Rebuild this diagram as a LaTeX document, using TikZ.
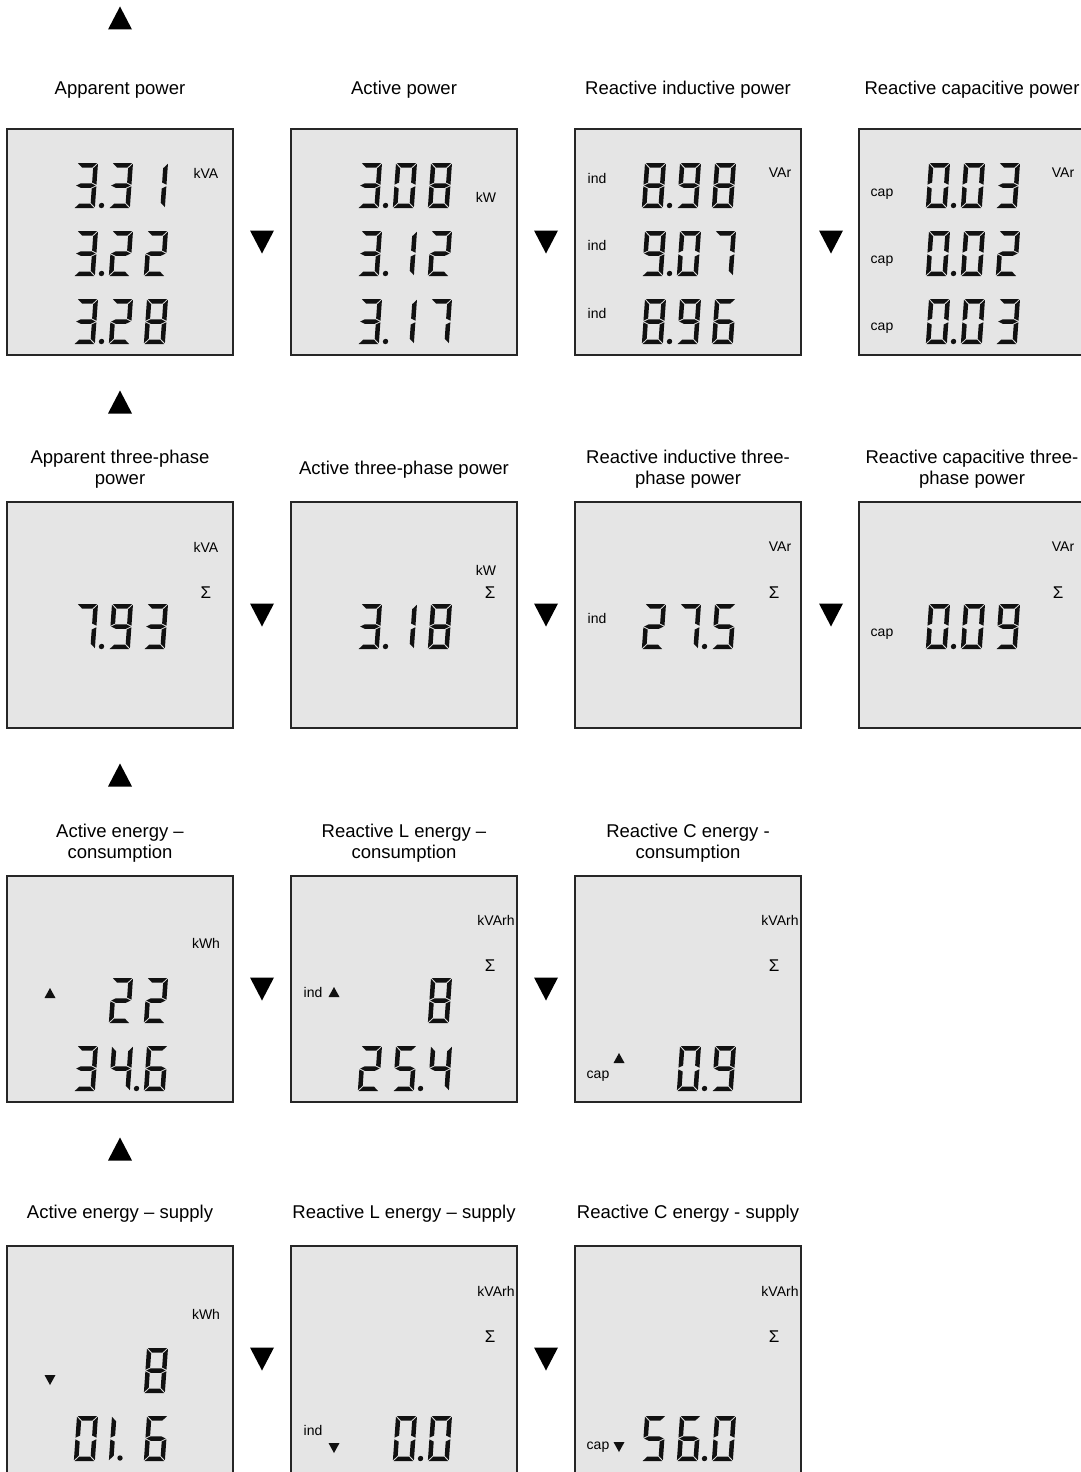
\documentclass[tikz,border=0pt]{standalone}
\usepackage{fontspec}
\setmainfont{Liberation Sans}
\definecolor{lcdbg}{HTML}{E5E5E5}
\definecolor{lcdseg}{HTML}{111111}
\tikzset{
  ttl/.style={font=\fontsize{18.5}{21}\selectfont, align=center, inner sep=0pt},
  lbl/.style={font=\fontsize{14}{14}\selectfont, inner sep=0pt},
  sig/.style={font=\fontsize{17}{17}\selectfont, inner sep=0pt},
  panelbox/.style={draw=black!85, line width=1.2pt, fill=lcdbg, minimum width=226pt, minimum height=226pt, inner sep=0pt},
  lastrow/.style={panelbox, minimum height=240pt},
}
% seven-segment pieces (local frame, y downwards, 21 x 45)
\newcommand\sgA{\fill (0.8,0) -- (20.2,0) -- (15.7,4.5) -- (5.3,4.5) -- cycle;}
\newcommand\sgB{\fill (21,0.8) -- (21,21.7) -- (16.5,19.45) -- (16.5,5.3) -- cycle;}
\newcommand\sgC{\fill (21,23.3) -- (21,44.2) -- (16.5,39.7) -- (16.5,25.55) -- cycle;}
\newcommand\sgD{\fill (0.8,45) -- (20.2,45) -- (15.7,40.5) -- (5.3,40.5) -- cycle;}
\newcommand\sgE{\fill (0,23.3) -- (0,44.2) -- (4.5,39.7) -- (4.5,25.55) -- cycle;}
\newcommand\sgF{\fill (0,0.8) -- (0,21.7) -- (4.5,19.45) -- (4.5,5.3) -- cycle;}
\newcommand\sgG{\fill (0.8,22.5) -- (5.3,20.25) -- (15.7,20.25) -- (20.2,22.5) -- (15.7,24.75) -- (5.3,24.75) -- cycle;}
\newcommand\dg[3]{\begin{scope}[shift={(#1,#2)},xslant=0.07,fill=lcdseg]%
  \ifcase#3\relax \sgA\sgB\sgC\sgD\sgE\sgF
  \or \sgB\sgC
  \or \sgA\sgB\sgG\sgE\sgD
  \or \sgA\sgB\sgG\sgC\sgD
  \or \sgF\sgG\sgB\sgC
  \or \sgA\sgF\sgG\sgC\sgD
  \or \sgA\sgF\sgG\sgE\sgD\sgC
  \or \sgA\sgB\sgC
  \or \sgA\sgB\sgC\sgD\sgE\sgF\sgG
  \or \sgA\sgB\sgC\sgD\sgF\sgG
  \or \sgE\sgF
  \fi\end{scope}}
\newcommand\dt[2]{\begin{scope}[shift={(#1,#2)},xslant=0.07]\fill[lcdseg] (27.5,42.5) circle[radius=2.7];\end{scope}}
\newcommand\bigup[2]{\fill ({#1-12},{#2+11.5}) -- ({#1+12},{#2+11.5}) -- (#1,{#2-11.5}) -- cycle;}
\newcommand\bigdown[2]{\fill ({#1-12},{#2-11.5}) -- ({#1+12},{#2-11.5}) -- (#1,{#2+11.5}) -- cycle;}
\newcommand\smup[2]{\fill[lcdseg] ({#1-5.5},{#2+5}) -- ({#1+5.5},{#2+5}) -- (#1,{#2-5}) -- cycle;}
\newcommand\smdown[2]{\fill[lcdseg] ({#1-5.5},{#2-5}) -- ({#1+5.5},{#2-5}) -- (#1,{#2+5}) -- cycle;}
\begin{document}
\begin{tikzpicture}[x=1pt,y=-1pt]
\useasboundingbox[fill=white] (0,0) rectangle (1081,1472);

% ---------- titles ----------
\node[ttl] (t11) at (120,90) {Apparent power};
\node[ttl] (t12) at (404,90) {Active power};
\node[ttl] (t13) at (688,90) {Reactive inductive power};
\node[ttl] (t14) at (972,90) {Reactive capacitive power};
\node[ttl] (t21) at (120,469) {Apparent three-phase\\power};
\node[ttl] (t22) at (404,470) {Active three-phase power};
\node[ttl] (t23) at (688,469) {Reactive inductive three-\\phase power};
\node[ttl] (t24) at (972,469) {Reactive capacitive three-\\phase power};
\node[ttl] (t31) at (120,843) {Active energy –\\consumption};
\node[ttl] (t32) at (404,843) {Reactive L energy –\\consumption};
\node[ttl] (t33) at (688,843) {Reactive C energy -\\consumption};
\node[ttl] (t41) at (120,1214) {Active energy – supply};
\node[ttl] (t42) at (404,1214) {Reactive L energy – supply};
\node[ttl] (t43) at (688,1214) {Reactive C energy - supply};

% ---------- panels ----------
\node[panelbox] (p11) at (120,242) {};
\node[panelbox] (p12) at (404,242) {};
\node[panelbox] (p13) at (688,242) {};
\node[panelbox] (p14) at (972,242) {};
\node[panelbox] (p21) at (120,615) {};
\node[panelbox] (p22) at (404,615) {};
\node[panelbox] (p23) at (688,615) {};
\node[panelbox] (p24) at (972,615) {};
\node[panelbox] (p31) at (120,989) {};
\node[panelbox] (p32) at (404,989) {};
\node[panelbox] (p33) at (688,989) {};
\node[lastrow] (p41) at (120,1366) {};
\node[lastrow] (p42) at (404,1366) {};
\node[lastrow] (p43) at (688,1366) {};

% ---------- navigation triangles ----------
\bigup{120}{18}
\bigup{120}{402}
\bigup{120}{775}
\bigup{120}{1149}
\bigdown{262}{242} \bigdown{546}{242} \bigdown{831}{242}
\bigdown{262}{615} \bigdown{546}{615} \bigdown{831}{615}
\bigdown{262}{989} \bigdown{546}{989}
\bigdown{262}{1359} \bigdown{546}{1359}

% ---------- row 1 ----------
\begin{scope}[shift={(7,129)}]
  \dg{70}{34}{3}\dt{70}{34}\dg{105}{34}{3}\dg{140}{34}{1}
  \dg{70}{102}{3}\dt{70}{102}\dg{105}{102}{2}\dg{140}{102}{2}
  \dg{70}{170}{3}\dt{70}{170}\dg{105}{170}{2}\dg{140}{170}{8}
  \node[lbl] (u11) at (199,44) {kVA};
\end{scope}
\begin{scope}[shift={(291,129)}]
  \dg{70}{34}{3}\dt{70}{34}\dg{105}{34}{0}\dg{140}{34}{8}
  \dg{70}{102}{3}\dt{70}{102}\dg{105}{102}{1}\dg{140}{102}{2}
  \dg{70}{170}{3}\dt{70}{170}\dg{105}{170}{1}\dg{140}{170}{7}
  \node[lbl] (u12) at (195,68) {kW};
\end{scope}
\begin{scope}[shift={(575,129)}]
  \dg{70}{34}{8}\dt{70}{34}\dg{105}{34}{9}\dg{140}{34}{8}
  \dg{70}{102}{9}\dt{70}{102}\dg{105}{102}{0}\dg{140}{102}{7}
  \dg{70}{170}{8}\dt{70}{170}\dg{105}{170}{9}\dg{140}{170}{6}
  \node[lbl] (i13a) at (22,49) {ind};
  \node[lbl] (i13b) at (22,116) {ind};
  \node[lbl] (i13c) at (22,184) {ind};
  \node[lbl] (u13) at (205,44) {VAr};
\end{scope}
\begin{scope}[shift={(859,129)}]
  \dg{70}{34}{0}\dt{70}{34}\dg{105}{34}{0}\dg{140}{34}{3}
  \dg{70}{102}{0}\dt{70}{102}\dg{105}{102}{0}\dg{140}{102}{2}
  \dg{70}{170}{0}\dt{70}{170}\dg{105}{170}{0}\dg{140}{170}{3}
  \node[lbl] (c14a) at (23,65) {cap};
  \node[lbl] (c14b) at (23,132) {cap};
  \node[lbl] (c14c) at (23,199) {cap};
  \node[lbl] (u14) at (204,44) {VAr};
\end{scope}

% ---------- row 2 ----------
\begin{scope}[shift={(7,502)}]
  \dg{70}{102}{7}\dt{70}{102}\dg{105}{102}{9}\dg{140}{102}{3}
  \node[lbl] (u21) at (199,45) {kVA};
  \node[sig] (s21) at (199,91) {Σ};
\end{scope}
\begin{scope}[shift={(291,502)}]
  \dg{70}{102}{3}\dt{70}{102}\dg{105}{102}{1}\dg{140}{102}{8}
  \node[lbl] (u22) at (195,68) {kW};
  \node[sig] (s22) at (199,91) {Σ};
\end{scope}
\begin{scope}[shift={(575,502)}]
  \dg{70}{102}{2}\dg{105}{102}{7}\dt{105}{102}\dg{140}{102}{5}
  \node[lbl] (u23) at (205,45) {VAr};
  \node[sig] (s23) at (199,91) {Σ};
  \node[lbl] (i23) at (22,116) {ind};
\end{scope}
\begin{scope}[shift={(859,502)}]
  \dg{70}{102}{0}\dt{70}{102}\dg{105}{102}{0}\dg{140}{102}{9}
  \node[lbl] (u24) at (204,45) {VAr};
  \node[sig] (s24) at (199,91) {Σ};
  \node[lbl] (c24) at (23,132) {cap};
\end{scope}

% ---------- row 3 ----------
\begin{scope}[shift={(7,876)}]
  \dg{105}{102}{2}\dg{140}{102}{2}
  \dg{70}{170}{3}\dg{105}{170}{4}\dt{105}{170}\dg{140}{170}{6}
  \node[lbl] (u31) at (199,67) {kWh};
  \smup{43}{117}
\end{scope}
\begin{scope}[shift={(291,876)}]
  \dg{140}{102}{8}
  \dg{70}{170}{2}\dg{105}{170}{5}\dt{105}{170}\dg{140}{170}{4}
  \node[lbl] (u32) at (205,44) {kVArh};
  \node[sig] (s32) at (199,90) {Σ};
  \node[lbl] (i32) at (22,116) {ind};
  \smup{43}{116}
\end{scope}
\begin{scope}[shift={(575,876)}]
  \dg{105}{170}{0}\dt{105}{170}\dg{140}{170}{9}
  \node[lbl] (u33) at (205,44) {kVArh};
  \node[sig] (s33) at (199,90) {Σ};
  \node[lbl] (c33) at (23,200) {cap};
  \smup{44}{182}
\end{scope}

% ---------- row 4 ----------
\begin{scope}[shift={(7,1246)}]
  \dg{140}{102}{8}
  \dg{70}{170}{0}\dg{105}{170}{10}\fill[lcdseg] (113,212) circle[radius=2.7];\dg{140}{170}{6}
  \node[lbl] (u41) at (199,68) {kWh};
  \smdown{43}{134}
\end{scope}
\begin{scope}[shift={(291,1246)}]
  \dg{105}{170}{0}\dt{105}{170}\dg{140}{170}{0}
  \node[lbl] (u42) at (205,45) {kVArh};
  \node[sig] (s42) at (199,91) {Σ};
  \node[lbl] (i42) at (22,184) {ind};
  \smdown{43}{202}
\end{scope}
\begin{scope}[shift={(575,1246)}]
  \dg{70}{170}{5}\dg{105}{170}{6}\dt{105}{170}\dg{140}{170}{0}
  \node[lbl] (u43) at (205,45) {kVArh};
  \node[sig] (s43) at (199,91) {Σ};
  \node[lbl] (c43) at (23,201) {cap};
  \smdown{44}{201}
\end{scope}
\end{tikzpicture}
\end{document}
